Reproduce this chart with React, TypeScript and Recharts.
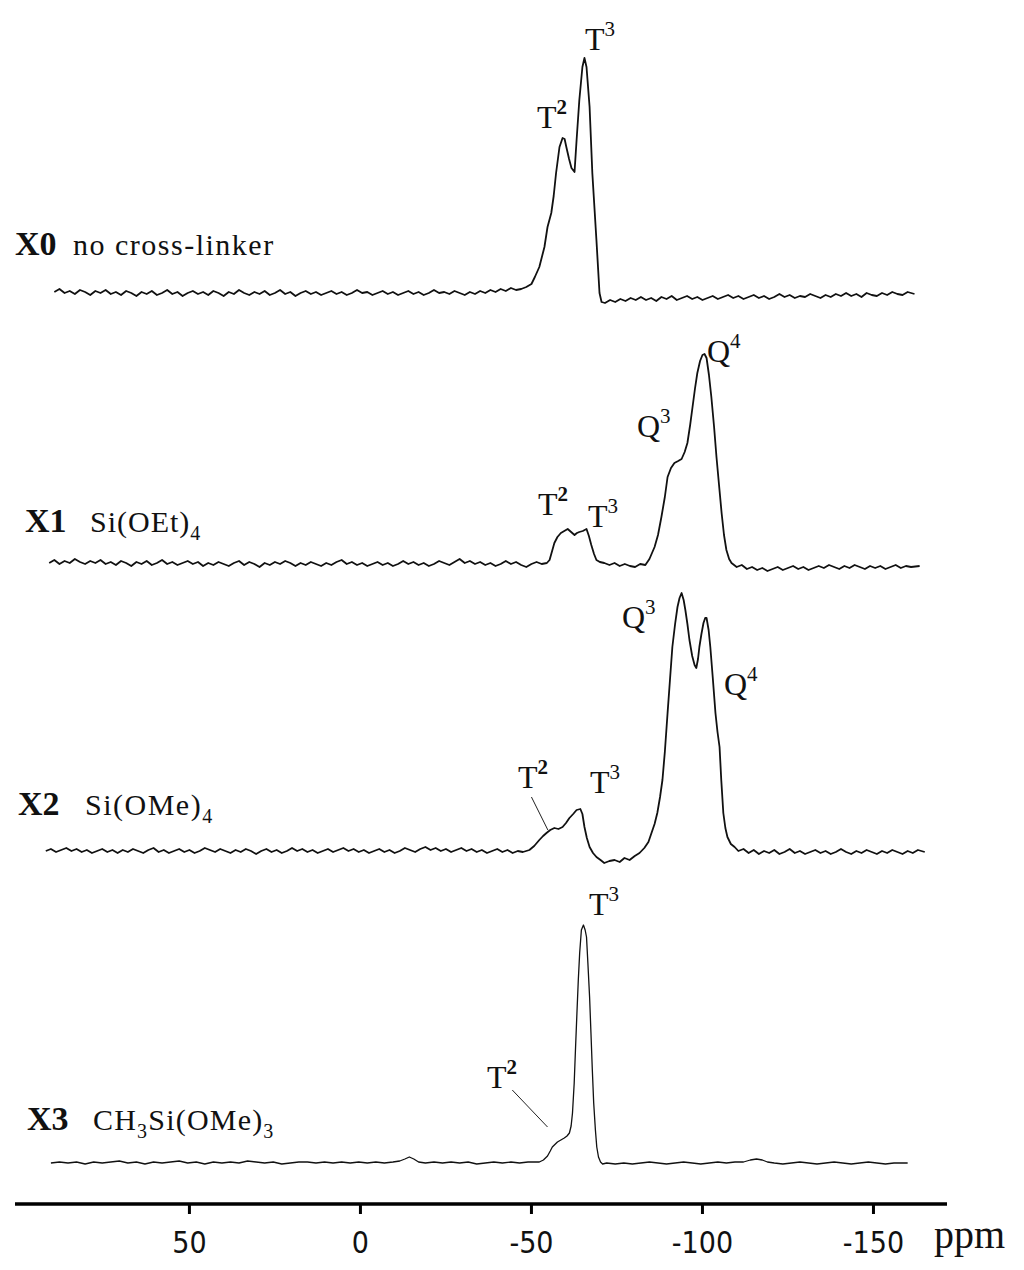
import { LineChart, Line, XAxis, YAxis, ReferenceLine } from 'recharts'

// 29Si CP-MAS spectra, [ppm, intensity above own baseline]
const X0: [number, number][] = [
  [89.5, 2], [88, 5], [86.5, 1], [85, 3], [83.5, 0], [82, 4], [80.5, 2], [79, -1], [77.5, 3], [76, 1],
  [74.5, 4], [73, 0], [71.5, 2], [70, -1], [68.5, 3], [67, 1], [65.5, -2], [64, 2], [62.5, 0], [61, 3],
  [59.5, -1], [58, 1], [56.5, 4], [55, 0], [53.5, 2], [52, -2], [50.5, 1], [49, 3], [47.5, 0], [46, 2],
  [44.5, -1], [43, 3], [41.5, 1], [40, -2], [38.5, 2], [37, 0], [35.5, 4], [34, 1], [32.5, -1], [31, 2],
  [29.5, 0], [28, 3], [26.5, -1], [25, 1], [23.5, 4], [22, 0], [20.5, 2], [19, -2], [17.5, 1], [16, 3],
  [14.5, 0], [13, 2], [11.5, -1], [10, 1], [8.5, 3], [7, 0], [5.5, 2], [4, -1], [2.5, 1], [1, 4],
  [-0.5, 1], [-2, 2], [-3.5, -1], [-5, 1], [-6.5, 3], [-8, 0], [-9.5, 2], [-11, -1], [-12.5, 1], [-14, 3],
  [-15.5, 0], [-17, 2], [-18.5, -1], [-20, 1], [-21.5, 4], [-23, 1], [-24.5, 2], [-26, 0], [-27.5, 3], [-29, 1],
  [-30.5, -1], [-32, 2], [-33.5, 0], [-35, 3], [-36.5, 1], [-38, 4], [-39.5, 2], [-41, 5], [-42.5, 3], [-44, 6],
  [-45.5, 4], [-47, 5], [-48.5, 7], [-50, 10], [-51, 17], [-52.3, 27], [-53.8, 47], [-54.7, 67], [-55.8, 81],
  [-56.5, 98], [-57.2, 121], [-58.2, 147], [-59.1, 156], [-59.7, 155], [-60.2, 147], [-61, 135], [-61.7, 126],
  [-62.6, 122], [-63.2, 154], [-64, 194], [-64.9, 227], [-65.5, 236], [-66.1, 227], [-67, 187], [-67.8, 121],
  [-69, 54], [-69.9, 1], [-70.5, -8], [-71.5, -9], [-73, -6], [-74.5, -8], [-76, -5], [-77.5, -7], [-79, -4],
  [-80.5, -6], [-82, -3], [-83.5, -6], [-85, -4], [-86.5, -7], [-88, -3], [-89.5, -5], [-91, -2], [-92.5, -6],
  [-94, -4], [-95.5, -2], [-97, -5], [-98.5, -3], [-100, -6], [-101.5, -4], [-103, -2], [-104.5, -5], [-106, -3],
  [-107.5, -1], [-109, -4], [-110.5, -2], [-112, -5], [-113.5, -3], [-115, -1], [-116.5, -4], [-118, -2],
  [-119.5, -5], [-121, -3], [-122.5, 0], [-124, -3], [-125.5, -1], [-127, -4], [-128.5, -2], [-130, -3],
  [-131.5, 0], [-133, -2], [-134.5, -4], [-136, -1], [-137.5, -3], [-139, 0], [-140.5, -2], [-142, 1],
  [-143.5, -2], [-145, 0], [-146.5, -3], [-148, 1], [-149.5, -1], [-151, -2], [-152.5, 1], [-154, -1],
  [-155.5, 2], [-157, 0], [-158.5, -1], [-160, 2], [-162, 0],
]

const X1: [number, number][] = [
  [91, 2], [89.5, 5], [88, 1], [86.5, 4], [85, 2], [83.5, 6], [82, 3], [80.5, 1], [79, 4], [77.5, 2],
  [76, 5], [74.5, 1], [73, 3], [71.5, 0], [70, 4], [68.5, 2], [67, -1], [65.5, 3], [64, 1], [62.5, 4],
  [61, 0], [59.5, 2], [58, 5], [56.5, 1], [55, 3], [53.5, 0], [52, 2], [50.5, 4], [49, 1], [47.5, 3],
  [46, -1], [44.5, 2], [43, 0], [41.5, 3], [40, 1], [38.5, -1], [37, 2], [35.5, 4], [34, 0], [32.5, 3],
  [31, 1], [29.5, -2], [28, 2], [26.5, 0], [25, 3], [23.5, 1], [22, 4], [20.5, 2], [19, -1], [17.5, 2],
  [16, 0], [14.5, 3], [13, 1], [11.5, -1], [10, 2], [8.5, 0], [7, 3], [5.5, 5], [4, 1], [2.5, 3],
  [1, 0], [-0.5, 2], [-2, -1], [-3.5, 1], [-5, 3], [-6.5, 0], [-8, 2], [-9.5, -1], [-11, 1], [-12.5, 4],
  [-14, 1], [-15.5, 3], [-17, 0], [-18.5, 2], [-20, -1], [-21.5, 1], [-23, 4], [-24.5, 2], [-26, 0], [-27.5, 3],
  [-29, 6], [-30.5, 2], [-32, 4], [-33.5, 1], [-35, 3], [-36.5, 0], [-38, 2], [-39.5, -1], [-41, 1], [-42.5, 4],
  [-44, 1], [-45.5, 3], [-47, 0], [-48.5, -2], [-50, 1], [-51.5, 3], [-53, 1], [-54.5, 2],
  [-55.3, 5], [-56.7, 22], [-57.6, 28], [-58.6, 32], [-59.6, 34], [-60.6, 36], [-61.6, 33], [-62.6, 30],
  [-63.3, 32], [-64, 33], [-65, 34], [-66.1, 36], [-66.8, 29], [-67.5, 20], [-68.3, 11], [-69, 5], [-70, 3],
  [-71.3, 2], [-72.8, 0], [-74.3, 2], [-75.8, -1], [-77.3, 1], [-78.8, -1], [-80.3, -2], [-81.8, 1], [-83.3, 0],
  [-84.5, 6], [-86, 18], [-87, 30], [-88, 48], [-89, 68], [-89.8, 88], [-90.8, 97], [-91.8, 102], [-92.9, 104],
  [-93.9, 106], [-94.8, 113], [-95.6, 122], [-96.4, 140], [-97.1, 158], [-97.8, 176], [-98.5, 192], [-99.3, 204],
  [-100, 210], [-100.6, 211], [-101.2, 207], [-101.9, 190], [-102.6, 168], [-103.4, 138], [-104.1, 108],
  [-104.9, 78], [-105.6, 52], [-106.3, 30], [-107, 15], [-107.8, 6], [-108.5, 2], [-110, -2], [-111.5, 0],
  [-113, -4], [-114.5, -2], [-116, -5], [-117.5, -3], [-119, -6], [-120.5, -4], [-122, -2], [-123.5, -5],
  [-125, -3], [-126.5, -1], [-128, -4], [-129.5, -2], [-131, -5], [-132.5, -3], [-134, -1], [-135.5, -3],
  [-137, 0], [-138.5, -2], [-140, -4], [-141.5, -1], [-143, -3], [-144.5, 0], [-146, -2], [-147.5, -4],
  [-149, -1], [-150.5, -3], [-152, -1], [-153.5, -4], [-155, -2], [-156.5, 0], [-158, -3], [-159.5, -1],
  [-161, -2], [-163.5, -1],
]

const X2: [number, number][] = [
  [92, 1], [90.5, 3], [89, 0], [87.5, 2], [86, 4], [84.5, 1], [83, 3], [81.5, 0], [80, 2], [78.5, -1],
  [77, 1], [75.5, 3], [74, 0], [72.5, 2], [71, -1], [69.5, 2], [68, 0], [66.5, 3], [65, 1], [63.5, -1],
  [62, 2], [60.5, 4], [59, 0], [57.5, 2], [56, -1], [54.5, 1], [53, 3], [51.5, 0], [50, 2], [48.5, -1],
  [47, 1], [45.5, 4], [44, 2], [42.5, 0], [41, 3], [39.5, 1], [38, -1], [36.5, 2], [35, 0], [33.5, 3],
  [32, 1], [30.5, -2], [29, 1], [27.5, 3], [26, 0], [24.5, 2], [23, -1], [21.5, 1], [20, 4], [18.5, 1],
  [17, 3], [15.5, 0], [14, 2], [12.5, -1], [11, 1], [9.5, 3], [8, 0], [6.5, 2], [5, 4], [3.5, 1],
  [2, 3], [0.5, 0], [-1, 2], [-2.5, -1], [-4, 1], [-5.5, 3], [-7, 0], [-8.5, 2], [-10, -1], [-11.5, 1],
  [-13, 4], [-14.5, 2], [-16, 0], [-17.5, 3], [-19, 5], [-20.5, 2], [-22, 4], [-23.5, 1], [-25, 3], [-26.5, 0],
  [-28, 2], [-29.5, 4], [-31, 1], [-32.5, 3], [-34, 0], [-35.5, 2], [-37, -1], [-38.5, 1], [-40, 3], [-41.5, 0],
  [-43, 2], [-44.5, -1], [-46, 1], [-47.5, 0],
  [-49.4, 2], [-50.8, 6], [-52.3, 12], [-53.4, 16], [-54.4, 19], [-55.5, 22], [-56.7, 24], [-57.9, 23],
  [-59.1, 25], [-60.1, 29], [-61.1, 34], [-62.2, 38], [-63.2, 42], [-64.3, 43], [-64.9, 38], [-65.5, 25],
  [-66.2, 14], [-67, 5], [-68, -1], [-69, -5], [-70.2, -8], [-71.3, -11], [-72.8, -9], [-74.3, -8],
  [-75.8, -10], [-77.2, -6], [-78.7, -8], [-80.2, -4], [-81.6, -1], [-83, 4], [-84.2, 10], [-85.1, 19],
  [-86, 28], [-86.8, 39], [-87.6, 55], [-88.3, 72], [-89, 100], [-89.8, 139], [-90.5, 172], [-91.2, 205],
  [-92, 228], [-92.7, 245], [-93.3, 254], [-93.9, 259], [-94.5, 252], [-95, 242], [-95.6, 228], [-96.2, 212],
  [-97, 196], [-97.7, 187], [-98.2, 184], [-98.7, 193], [-99.1, 205], [-99.7, 218], [-100.3, 229],
  [-100.8, 234], [-101.2, 234], [-101.8, 222], [-102.3, 205], [-103, 175], [-103.8, 139], [-104.4, 120],
  [-105, 105], [-105.5, 72], [-106.1, 39], [-106.7, 24], [-107.3, 15], [-108.3, 8], [-109.4, 5], [-110.5, 1],
  [-112, 3], [-113.5, -1], [-115, 2], [-116.5, -2], [-118, 1], [-119.5, -1], [-121, 2], [-122.5, -2],
  [-124, 0], [-125.5, 3], [-127, -1], [-128.5, 1], [-130, -2], [-131.5, 0], [-133, 2], [-134.5, -1],
  [-136, 1], [-137.5, -2], [-139, 0], [-140.5, 3], [-142, 0], [-143.5, -2], [-145, 1], [-146.5, -1],
  [-148, 2], [-149.5, 0], [-151, -2], [-152.5, 1], [-154, -1], [-155.5, 2], [-157, 0], [-158.5, -2],
  [-160, 1], [-161.5, -1], [-163, 2], [-165, 0],
]

const X3: [number, number][] = [
  [90.5, 0], [88, 1], [85.5, 0], [83, 1], [80.5, -1], [78, 1], [75.5, 0], [73, 1], [70.5, 2], [68, 0],
  [65.5, 1], [63, -1], [60.5, 1], [58, 0], [55.5, 1], [53, 2], [50.5, 0], [48, 1], [45.5, -1], [43, 1],
  [40.5, 0], [38, 1], [35.5, 0], [33, 2], [30.5, 1], [28, 0], [25.5, 1], [23, -1], [20.5, 0], [18, 1],
  [15.5, 1], [13, 0], [10.5, 1], [8, 0], [5.5, 1], [3, 0], [0.5, 1], [-2, 0], [-4.5, 1], [-7, 0],
  [-9.5, 1], [-11.5, 2], [-13, 4], [-14.3, 6], [-15.6, 4], [-17, 1], [-19, 0], [-21.5, 1], [-24, 0],
  [-26.5, 1], [-29, 0], [-31.5, 1], [-34, -1], [-36.5, 0], [-39, 1], [-41.5, 0], [-44, 1], [-46.5, 0],
  [-49, 1], [-51, 1], [-52.3, 1], [-53.5, 3], [-54.7, 7], [-55.5, 12], [-56.1, 16], [-57, 19], [-57.6, 21],
  [-58.6, 23], [-59.6, 25], [-60.4, 27], [-61.1, 30], [-61.6, 37], [-62, 50], [-62.5, 80], [-62.9, 116],
  [-63.3, 150], [-63.7, 183], [-64.1, 210], [-64.6, 233], [-65.2, 238], [-65.7, 233], [-66.1, 226],
  [-66.5, 200], [-67, 166], [-67.4, 130], [-67.8, 93], [-68.2, 60], [-68.7, 33], [-69.1, 16], [-69.6, 6],
  [-70.2, 1], [-70.8, -1], [-72, 0], [-74.5, -1], [-77, 0], [-79.5, -1], [-82, 0], [-84.5, 1], [-87, 0],
  [-89.5, -1], [-92, 0], [-94.5, 1], [-97, 0], [-99.5, -1], [-102, 0], [-104.5, 1], [-107, 0], [-109.5, 1],
  [-112, 1], [-114, 3], [-115.8, 4], [-117.5, 3], [-119, 1], [-121, 0], [-123.5, -1], [-126, 0],
  [-128.5, 1], [-131, 0], [-133.5, -1], [-136, 0], [-138.5, 1], [-141, 0], [-143.5, -1], [-146, 0],
  [-148.5, 1], [-151, 0], [-153.5, -1], [-156, 0], [-160, 0],
]

const TICKS = [50, 0, -50, -100, -150]
const SAMPLES = ['X0', 'X1', 'X2', 'X3']

// vertical stacking (y units == px above the ppm axis)
const OFFSETS = [910, 639, 352, 41]
const SPECTRA = [X0, X1, X2, X3]

const W = 1024
const H = 1270
const serif = '"Liberation Serif", "Times New Roman", serif'

const toRows = (pts: [number, number][], off: number) =>
  pts.map(([ppm, v]) => ({ ppm, v: v + off }))

function PeakLabel({ x, y, base, sup, boldSup }: { x: number; y: number; base: string; sup: string; boldSup?: boolean }) {
  return (
    <text x={x} y={y} fontFamily={serif} fontSize={32} fill="#111">
      {base}
      <tspan fontSize={21} dy={-14} fontWeight={boldSup ? 700 : 400}>{sup}</tspan>
    </text>
  )
}

export default function App() {
  return (
    <div style={{ position: 'absolute', left: 0, top: 0, width: W, height: H, background: '#fff' }}>
      <LineChart width={W} height={H} margin={{ top: 20, right: 77, left: 15, bottom: 0 }}>
        <XAxis
          type="number"
          dataKey="ppm"
          domain={[-171.5, 101]}
          reversed
          allowDataOverflow
          ticks={TICKS}
          height={66}
          axisLine={{ stroke: '#000', strokeWidth: 3.5 }}
          tickLine={{ stroke: '#000', strokeWidth: 3 }}
          tickSize={10}
          tickMargin={18}
          tick={{ fill: '#111', fontSize: 30, fontFamily: '"Liberation Sans Narrow", "DejaVu Sans Condensed", sans-serif' }}
        />
        <YAxis type="number" domain={[0, 1184]} hide />
        {SPECTRA.map((pts, i) => (
          <Line
            key={SAMPLES[i]}
            data={toRows(pts, OFFSETS[i])}
            dataKey="v"
            type="linear"
            stroke="#111"
            strokeWidth={i === 3 ? 1.3 : 1.8}
            strokeLinejoin="round"
            dot={false}
            isAnimationActive={false}
          />
        ))}
        <ReferenceLine segment={[{ x: -50, y: 407 }, { x: -54.8, y: 374 }]} stroke="#222" strokeWidth={1} />
        <ReferenceLine segment={[{ x: -44.4, y: 114 }, { x: -54.7, y: 77 }]} stroke="#222" strokeWidth={1} />
      </LineChart>

      <svg width={W} height={H} style={{ position: 'absolute', left: 0, top: 0, pointerEvents: 'none' }}>
        {/* X0 */}
        <PeakLabel x={585} y={50} base="T" sup="3" />
        <PeakLabel x={537} y={128} base="T" sup="2" boldSup />
        {/* X1 */}
        <PeakLabel x={538} y={515} base="T" sup="2" boldSup />
        <PeakLabel x={588} y={527} base="T" sup="3" />
        <PeakLabel x={637} y={437} base="Q" sup="3" />
        <PeakLabel x={707} y={362} base="Q" sup="4" />
        {/* X2 */}
        <PeakLabel x={622} y={628} base="Q" sup="3" />
        <PeakLabel x={724} y={695} base="Q" sup="4" />
        <PeakLabel x={518} y={788} base="T" sup="2" boldSup />
        <PeakLabel x={590} y={793} base="T" sup="3" />
        {/* X3 */}
        <PeakLabel x={589} y={915} base="T" sup="3" />
        <PeakLabel x={487} y={1088} base="T" sup="2" boldSup />

        <g fontFamily={serif} fill="#111">
          <text x={15} y={255} fontSize={34} fontWeight={700}>{SAMPLES[0]}</text>
          <text x={73} y={255} fontSize={30} letterSpacing={1.5}>no cross-linker</text>

          <text x={25} y={532} fontSize={34} fontWeight={700}>{SAMPLES[1]}</text>
          <text x={90} y={532} fontSize={30} letterSpacing={1}>
            Si(OEt)<tspan fontSize={20} dy={8}>4</tspan>
          </text>

          <text x={18} y={815} fontSize={34} fontWeight={700}>{SAMPLES[2]}</text>
          <text x={85} y={815} fontSize={30} letterSpacing={1.5}>
            Si(OMe)<tspan fontSize={20} dy={8}>4</tspan>
          </text>

          <text x={27} y={1130} fontSize={34} fontWeight={700}>{SAMPLES[3]}</text>
          <text x={93} y={1130} fontSize={30} letterSpacing={1.2}>
            CH<tspan fontSize={20} dy={8}>3</tspan>
            <tspan dy={-8}>Si(OMe)</tspan>
            <tspan fontSize={20} dy={8}>3</tspan>
          </text>

          <text x={934} y={1248} fontSize={40}>ppm</text>
        </g>
      </svg>
    </div>
  )
}
